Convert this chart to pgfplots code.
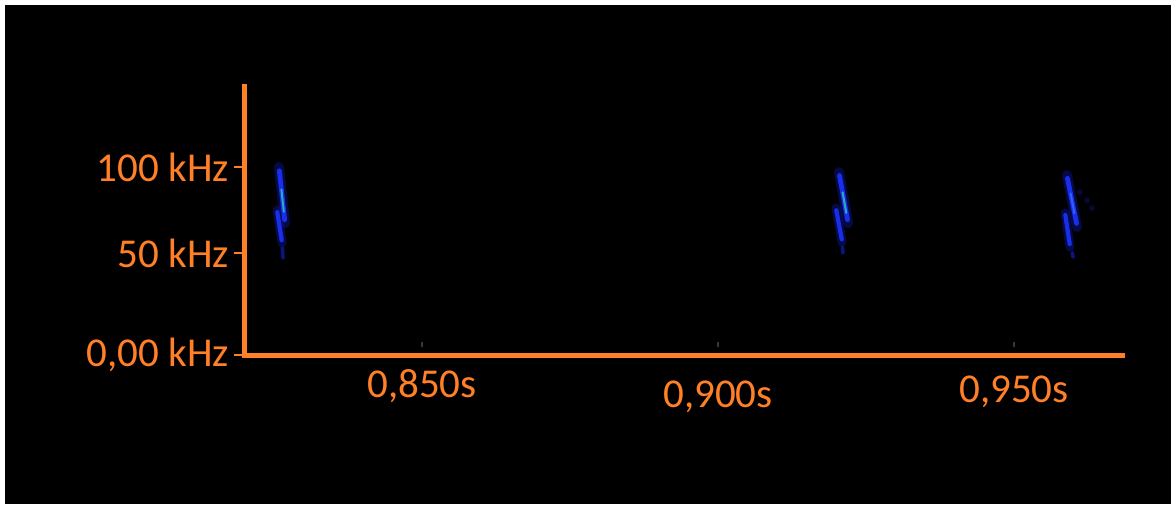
\documentclass[border=0pt]{standalone}
\usepackage{pgfplots}
\pgfplotsset{compat=1.18}
\usepackage{fontspec}
\setmainfont{Carlito}
\definecolor{axorange}{RGB}{255,128,38}
\definecolor{specblue}{RGB}{25,45,235}
\definecolor{specdeep}{RGB}{10,20,130}
\definecolor{speccore}{RGB}{40,170,190}
\definecolor{speclight}{RGB}{45,95,255}
\newcommand{\lift}[2]{\vphantom{0,9}\smash{\raisebox{#1}{#2}}}
\begin{document}
\begin{tikzpicture}
\useasboundingbox (0,0) rectangle (585.5pt,252pt);
\fill[white] (0,0) rectangle (585.5pt,252pt);
\fill[black] (2.5pt,0) rectangle (585.5pt,249.5pt);
\begin{axis}[
  at={(122pt,74.5pt)}, anchor=south west,
  scale only axis, width=439pt, height=134pt,
  xmin=0.81993, xmax=0.96824, ymin=0, ymax=142.6,
  axis lines=left,
  axis line style={-, draw=axorange, line width=2.5pt, line cap=rect},
  tick align=outside, major tick length=5pt,
  xtick={0.85,0.90,0.95},
  xticklabels={{\lift{5pt}{0,850s}},{0,900s},{\lift{2.5pt}{0,950s}}},
  ytick={0,54.3,100},
  yticklabels={{0,00 kHz},{50 kHz},{100 kHz}},
  x tick style={draw=black!78!white, line width=0.6pt, yshift=6.5pt, dash pattern=on 0pt off 2.5pt on 2.5pt off 5pt},
  y tick style={draw=axorange, line width=1.2pt},
  x tick label style={font=\fontsize{20.5}{24}\selectfont, text=axorange, yshift=-4.5pt},
  y tick label style={font=\fontsize{20.5}{24}\selectfont, text=axorange, xshift=1pt},
  clip=false,
]
% ---- call 1
\addplot[specdeep, line width=5pt, line cap=round, opacity=0.55] coordinates {(0.82584,100) (0.82686,70.2)};
\addplot[specdeep, line width=4.5pt, line cap=round, opacity=0.55] coordinates {(0.82551,77.1) (0.82635,59.6)};
\addplot[specblue, line width=2.4pt, line cap=round] coordinates {(0.82590,98) (0.82680,72)};
\addplot[specblue, line width=2.1pt, line cap=round] coordinates {(0.82555,76) (0.82630,61)};
\addplot[specdeep, line width=1.8pt, line cap=round] coordinates {(0.82640,57) (0.82652,51.6)};
\addplot[speccore, line width=1.0pt, line cap=round] coordinates {(0.82625,88.1) (0.82666,76.2)};
% ---- call 2
\addplot[specdeep, line width=5pt, line cap=round, opacity=0.55] coordinates {(0.92044,97.3) (0.92196,70.2)};
\addplot[specdeep, line width=4.5pt, line cap=round, opacity=0.55] coordinates {(0.91993,78.2) (0.92095,60.1)};
\addplot[specblue, line width=2.4pt, line cap=round] coordinates {(0.92052,95.5) (0.92188,72)};
\addplot[specblue, line width=2.1pt, line cap=round] coordinates {(0.91998,77) (0.92090,61.5)};
\addplot[specdeep, line width=1.8pt, line cap=round] coordinates {(0.92100,57.5) (0.92111,54.3)};
\addplot[speccore, line width=1.0pt, line cap=round] coordinates {(0.92105,86.5) (0.92166,75.6)};
% ---- call 3
\addplot[specdeep, line width=5pt, line cap=round, opacity=0.55] coordinates {(0.95895,95.7) (0.96064,68.1)};
\addplot[specdeep, line width=4.5pt, line cap=round, opacity=0.55] coordinates {(0.95861,75.5) (0.95946,57.4)};
\addplot[specblue, line width=2.4pt, line cap=round] coordinates {(0.95903,94) (0.96056,70)};
\addplot[specblue, line width=2.1pt, line cap=round] coordinates {(0.95866,74.5) (0.95941,59)};
\addplot[specdeep, line width=1.8pt, line cap=round] coordinates {(0.95985,54.5) (0.95997,52.1)};
\addplot[speclight, line width=1.0pt, line cap=round] coordinates {(0.95955,86.0) (0.96020,75.5)};
\addplot[only marks, mark=*, mark size=1.2pt, specdeep, opacity=0.4] coordinates {(0.96115,86.7) (0.96233,82.4) (0.96318,78.2)};
\end{axis}
\end{tikzpicture}
\end{document}
